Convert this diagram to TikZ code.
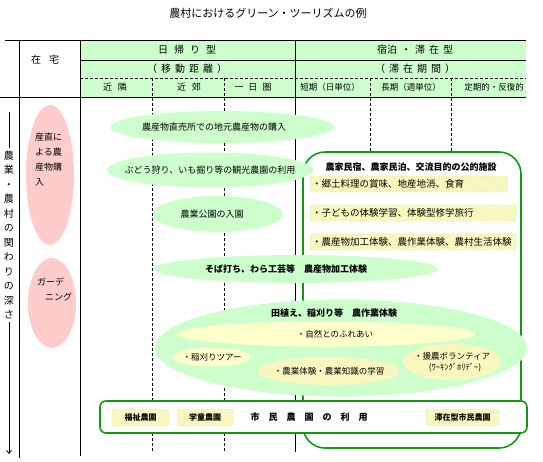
\documentclass[tikz,border=0pt]{standalone}
\usepackage{fontspec}
\setmainfont{Noto Sans CJK JP}
\usepackage{tikz}
\usetikzlibrary{arrows.meta,shapes.geometric,patterns}
\usepackage{xcolor}
\definecolor{lgreen}{HTML}{CCFFCC}
\definecolor{lpink}{HTML}{FFCCCC}
\definecolor{lyellow}{HTML}{FFFFCC}
\definecolor{hatchy}{HTML}{F0EAA8}
\definecolor{boxgreen}{HTML}{119911}
\definecolor{tagedge}{HTML}{C8EEC0}
\newcommand{\wsp}{\hspace{4pt}}

\begin{document}
\begin{tikzpicture}[x=1pt,y=-1pt,
  txt/.style={font=\fontsize{9}{11}\selectfont, inner sep=1pt},
  ytxt/.style={font=\fontsize{8.5}{11}\selectfont, inner sep=1pt},
  hdr/.style={font=\fontsize{10}{12}\selectfont, inner sep=1pt},
  solidrule/.style={line width=0.9pt},
  dashrule/.style={line width=0.8pt, dash pattern=on 3pt off 2pt},
  gell/.style={ellipse, fill=lgreen, inner sep=0pt},
  yell/.style={ellipse, fill=lyellow, inner sep=0pt},
  hatch/.style={preaction={fill=lyellow}, pattern=north east lines, pattern color=hatchy},
  pell/.style={ellipse, fill=lpink, inner sep=0pt},
  tagbox/.style={draw=tagedge, hatch, rounded corners=2pt, minimum height=16pt, inner sep=2pt, font=\fontsize{9.5}{11}\selectfont},
  smalltag/.style={tagbox, font=\fontsize{8}{10}\selectfont\bfseries},
  gbox/.style={draw=boxgreen, line width=1.6pt, fill=white}
]
\useasboundingbox (0,0) rectangle (543,461);

% Title
\node[font=\fontsize{11}{13}\selectfont] (title) at (268,13) {農村におけるグリーン・ツーリズムの例};

% Header table
\fill[lgreen] (80,40) rectangle (526,97);
\draw[solidrule] (5,40) -- (526,40);
\draw[solidrule] (80,60) -- (526,60);
\draw[dashrule] (80,78) -- (526,78);
\draw[solidrule] (0,97) -- (526,97);
\draw[solidrule] (19,40) -- (19,458);
\draw[solidrule] (80,40) -- (80,456);
\draw[solidrule] (295,40) -- (295,452);
\draw[dashrule] (152,78) -- (152,452);
\draw[dashrule] (224,78) -- (224,452);
\draw[dashrule] (370,78) -- (370,152);
\draw[dashrule] (451,78) -- (451,152);

\node[hdr] (home) at (45,60) {在\hspace{8pt}宅};
\node[hdr] (day) at (187,50) {日\hspace{6pt}帰\hspace{6pt}り\hspace{6pt}型};
\node[hdr] (stay) at (415,50) {宿泊\wsp{}・\wsp{}滞\wsp{}在\wsp{}型};
\node[hdr] (dist) at (187,69) {（\wsp{}移\wsp{}動\wsp{}距\wsp{}離\wsp{}）};
\node[hdr] (term) at (415,69) {（\wsp{}滞\wsp{}在\wsp{}期\wsp{}間\wsp{}）};
\node[txt] (near) at (115,87) {近\hspace{6pt}隣};
\node[txt] (suburb) at (189,87) {近\hspace{6pt}郊};
\node[txt] (oneday) at (253,87) {一\hspace{5pt}日\hspace{5pt}圏};
\node[txt, font=\fontsize{8.5}{10}\selectfont] (short) at (330,87) {短期（日単位）};
\node[txt, font=\fontsize{8.5}{10}\selectfont] (long) at (411,87) {長期（週単位）};
\node[txt, font=\fontsize{8.5}{10}\selectfont] (regular) at (494,87) {定期的・反復的};

% Depth axis
\coordinate (axtop) at (9,112);
\coordinate (axbot) at (9,454);
\node[font=\fontsize{10}{14.5}\selectfont, align=center, inner sep=3pt] (depth) at (9,235) {農\\業\\・\\農\\村\\の\\関\\わ\\り\\の\\深\\さ};
\draw[line width=0.8pt] (axtop) -- (depth.north);
\draw[line width=0.8pt, -{Straight Barb[length=3pt,width=5pt]}] (depth.south) -- (axbot);

% Pink categories
\node[pell, minimum width=48, minimum height=140] (direct) at (50,175) {};
\node[txt, align=left, anchor=north west, font=\fontsize{9}{15}\selectfont] (directtxt) at (34,132) {産直に\\よる農\\産物購\\入};
\node[pell, minimum width=48, minimum height=90] (garden) at (52,303) {};
\node[txt, align=left, anchor=north west, font=\fontsize{9}{15}\selectfont] (gardentxt) at (36,277) {ガーデ\\\hspace{8pt}ニング};

% Lodging facilities
\node[gbox, rounded corners=22pt, minimum width=218, minimum height=296] (lodge) at (412,300) {};
\node[txt, font=\fontsize{9}{11}\selectfont\bfseries] (lodgetitle) at (411,167) {農家民宿、農家民泊、交流目的の公的施設};
\node[tagbox, anchor=west, text width=193pt, align=left] (food) at (310,184) {・郷土料理の賞味、地産地消、食育};
\node[tagbox, anchor=west, text width=202pt, align=left] (kids) at (310,213) {・子どもの体験学習、体験型修学旅行};
\node[tagbox, anchor=west, text width=202pt, align=left] (craft) at (310,242) {・農産物加工体験、農作業体験、農村生活体験};

% Day-trip activities
\node[gell, minimum width=224, minimum height=32] (shop) at (222,127) {};
\node[txt] (shoptxt) at (214,127) {農産物直売所での地元農産物の購入};
\node[gell, minimum width=206, minimum height=35] (grape) at (210,170) {};
\node[txt] (grapetxt) at (grape) {ぶどう狩り、いも掘り等の観光農園の利用};
\node[gell, minimum width=130, minimum height=36] (park) at (218,214) {};
\node[txt] (parktxt) at (212,214) {農業公園の入園};
\node[gell, minimum width=284, minimum height=28] (soba) at (296,269) {};
\node[txt, font=\fontsize{9}{11}\selectfont\bfseries] (sobatxt) at (286,269) {そば打ち、わら工芸等　農産物加工体験};
\node[gell, minimum width=372, minimum height=97] (farm) at (341,348) {};
\node[txt, font=\fontsize{9}{11}\selectfont\bfseries] (farmtxt) at (334,313) {田植え、稲刈り等　農作業体験};
\node[yell, minimum width=298, minimum height=25] (nature) at (326,334) {};
\node[ytxt] (naturetxt) at (335,334) {・自然とのふれあい};
\node[yell, minimum width=77, minimum height=19] (rice) at (212,357) {};
\node[ytxt] (ricetxt) at (rice) {・稲刈りツアー};
\node[yell, hatch, minimum width=142, minimum height=28] (learn) at (329,371) {};
\node[ytxt] (learntxt) at (learn) {・農業体験・農業知識の学習};
\node[yell, hatch, minimum width=98, minimum height=36] (volunteer) at (452,362) {};
\node[ytxt, align=center] (volunteertxt) at (volunteer) {・援農ボランティア\\\hspace{6pt}(ﾜｰｷﾝｸﾞﾎﾘﾃﾞｰ)};

% Allotment gardens
\node[gbox, rounded corners=6pt, minimum width=427, minimum height=32] (allot) at (313.5,417) {};
\node[smalltag, minimum width=57] (welfare) at (140.5,417.5) {福祉農園};
\node[smalltag, minimum width=56] (school) at (205,417.5) {学童農園};
\node[txt, font=\fontsize{9}{11}\selectfont\bfseries] (allottxt) at (309,417) {市　民　農　園　の　利　用};
\node[smalltag, minimum width=73] (stayfarm) at (462.5,417.5) {滞在型市民農園};
\end{tikzpicture}
\end{document}
